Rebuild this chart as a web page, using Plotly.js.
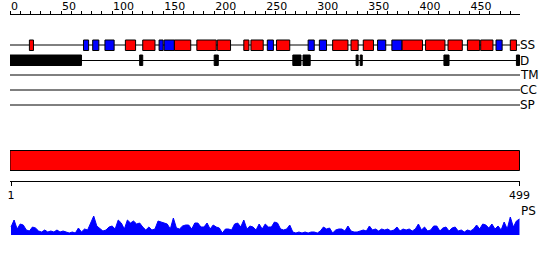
<!DOCTYPE html>
<html>
<head>
<meta charset="utf-8">
<script src="https://cdn.plot.ly/plotly-3.0.1.min.js"></script>
<style>html,body{margin:0;padding:0;background:#fff;}#chart{width:550px;height:260px;}</style>
</head>
<body>
<div id="chart"></div>
<script>
// Sequence length
const seqLength = 499;

// Secondary structure segments (H = helix, E = strand)
const ssStart = [20,73,82,94,114,131,147,152,162,184,204,230,237,253,262,293,304,317,335,347,361,375,385,408,430,449,462,477,491];
const ssEnd   = [23,77,87,102,123,142,150,161,177,202,216,234,248,258,274,298,310,331,341,356,368,384,404,426,443,460,473,482,496];
const ssType  = ['H','E','E','E','H','H','E','E','H','H','H','H','H','E','H','E','E','H','H','H','E','E','H','H','H','H','H','E','H'];

// Disorder segments
const dStart = [1,128,201,278,288,340,344,426,497];
const dEnd   = [70,130,204,285,294,341,345,430,499];

// Domain bar
const domStart = [1];
const domEnd = [499];

// Track labels
const trackLabels = ['SS','D','TM','CC','SP'];

// PS profile (sampled every 3 residues, starting at residue 1)
const psFirst = 1;
const psStep = 3;
const psValues = [8,15,6,11,10,5,4,8,7,4, 3,5,3,4,3,5,3,4,3,2, 3,2,7,3,6,5,12,19,9,6,
  4,5,8,9,6,15,12,6,15,12, 14,11,12,8,5,8,5,6,14,13, 12,11,6,17,7,6,9,10,10,6,
  12,12,8,8,12,6,10,8,7,2, 6,6,5,11,12,8,15,6,9,8, 5,11,6,11,8,8,13,12,6,5,
  6,10,3,2,3,2,3,2,3,3, 2,4,8,6,7,2,5,6,6,4, 9,4,3,3,4,5,4,9,5,6,
  4,6,5,6,4,5,8,4,6,5, 6,4,6,11,5,8,4,5,9,9, 4,7,8,4,7,8,4,5,3,5,
  4,6,10,6,11,10,7,11,6,9, 5,13,6,18,8,14,16];

// Ruler ticks
const rulerTicks = [];
for (let v = 0; v <= 490; v += 10) rulerTicks.push(v);
const rulerText = rulerTicks.map(v => v % 50 === 0 ? String(v) : '');
const bottomTicks = [1, 499];
const bottomText = ['1', '499'];

// ---- layout helpers (pixel rows on the main y axis: 0 = top) ----
const H = 260;
const rowY = {SS:45, D:60.5, TM:75, CC:90, SP:105, PS:211};
const FONT = 'DejaVu Sans, sans-serif';
const xr = [0, seqLength + 0.5];

const shapes = [];
// track lines
['SS','D','TM','CC','SP'].forEach(k => {
  shapes.push({type:'line', xref:'paper', yref:'y', x0:0, x1:1, y0:rowY[k], y1:rowY[k],
               line:{color:'#000', width:1}});
});
// SS boxes
for (let i = 0; i < ssStart.length; i++) {
  shapes.push({type:'rect', xref:'x', yref:'y', x0:ssStart[i]-1, x1:ssEnd[i],
    y0:rowY.SS-5, y1:rowY.SS+5.5,
    fillcolor: ssType[i] === 'H' ? '#ff0000' : '#0000ff',
    line:{color:'#000', width:1}});
}
// disorder boxes
for (let i = 0; i < dStart.length; i++) {
  shapes.push({type:'rect', xref:'x', yref:'y', x0:dStart[i]-1, x1:dEnd[i],
    y0:55, y1:65.5, fillcolor:'#000', line:{color:'#000', width:1}});
}
// domain bar
for (let i = 0; i < domStart.length; i++) {
  shapes.push({type:'rect', xref:'x', yref:'y', x0:domStart[i]-1, x1:domEnd[i],
    y0:150.5, y1:170.5, fillcolor:'#ff0000', line:{color:'#000', width:1}});
}

const annotations = trackLabels.map(k => ({
  text:k, xref:'paper', yref:'y', x:1, y:rowY[k], xanchor:'left', yanchor:'middle',
  showarrow:false, xshift:-2, font:{family:FONT, size:12, color:'#000'}
}));
annotations.push({text:'PS', xref:'paper', yref:'y', x:1, y:rowY.PS, xanchor:'left', yanchor:'middle',
  showarrow:false, xshift:-1, font:{family:FONT, size:12, color:'#000'}});

const psX = psValues.map((_, i) => psFirst + psStep * i);

const traces = [
  {x:[null], y:[null], xaxis:'x', yaxis:'y', mode:'markers', showlegend:false, hoverinfo:'skip'},
  {x:psX, y:psValues, xaxis:'x2', yaxis:'y2', type:'scatter', mode:'lines',
   line:{color:'#0000ff', width:1}, fill:'tozeroy', fillcolor:'#0000ff',
   showlegend:false, hoverinfo:'skip'}
];

const layout = {
  width:550, height:H,
  margin:{l:10, r:30, t:0, b:0, pad:0},
  paper_bgcolor:'#fff', plot_bgcolor:'rgba(0,0,0,0)',
  showlegend:false,
  font:{family:FONT, size:11, color:'#000'},
  xaxis:{range:xr, domain:[0,1], side:'top', anchor:'free', position:(H-14)/H,
    showline:true, linecolor:'#000', linewidth:1, ticks:'outside', ticklen:3, tickwidth:1,
    tickcolor:'#000', tickmode:'array', tickvals:rulerTicks, ticktext:rulerText,
    ticklabelposition:'outside right', tickfont:{family:FONT, size:11, color:'#000'},
    showgrid:false, zeroline:false, automargin:false, fixedrange:true},
  yaxis:{range:[H,0], domain:[0,1], visible:false, fixedrange:true},
  xaxis2:{range:xr, domain:[0,1], anchor:'free', position:(H-180.5)/H, side:'bottom',
    showline:true, linecolor:'#000', linewidth:1, ticks:'outside', ticklen:4, tickwidth:1,
    tickcolor:'#000', tickmode:'array', tickvals:bottomTicks, ticktext:bottomText,
    tickfont:{family:FONT, size:11, color:'#000'},
    showgrid:false, zeroline:false, automargin:false, fixedrange:true},
  yaxis2:{range:[0,20], domain:[(H-235)/H, (H-215)/H], anchor:'x2', visible:false, fixedrange:true},
  shapes:shapes,
  annotations:annotations
};

Plotly.newPlot('chart', traces, layout, {staticPlot:true, displayModeBar:false});
</script>
</body>
</html>
